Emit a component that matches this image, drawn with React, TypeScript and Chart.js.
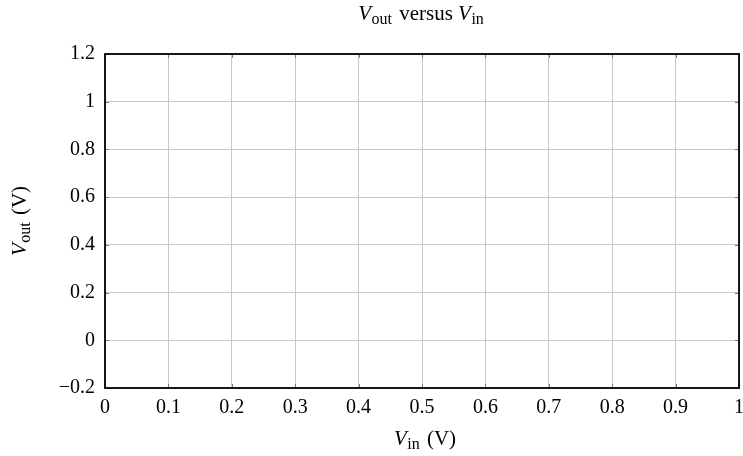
import React, { useEffect, useRef } from "react";
import { Chart, registerables } from "chart.js";

Chart.register(...registerables);

// Axis ranges and tick values
const xTicks = [0, 0.1, 0.2, 0.3, 0.4, 0.5, 0.6, 0.7, 0.8, 0.9, 1];
const yTicks = [-0.2, 0, 0.2, 0.4, 0.6, 0.8, 1, 1.2];
// Measured transfer curve (no samples recorded yet)
const vIn: number[] = [];
const vOut: number[] = [];

const FONT = "'Liberation Serif', 'Times New Roman', serif";
const FS = 20;
const TFS = 21;

type Part = { t: string; italic?: boolean; sub?: boolean };

function drawParts(ctx: CanvasRenderingContext2D, parts: Part[], x: number, y: number) {
  const fontOf = (p: Part) =>
    `${p.italic ? "italic " : ""}${p.sub ? Math.round(TFS * 0.75) : TFS}px ${FONT}`;
  const gap = (p: Part) => (p.sub ? 2 : p.italic ? 0.5 : 0);
  let total = 0;
  for (const p of parts) {
    ctx.font = fontOf(p);
    total += ctx.measureText(p.t).width + gap(p);
  }
  let cx = x - total / 2;
  ctx.textBaseline = "middle";
  ctx.textAlign = "left";
  for (const p of parts) {
    ctx.font = fontOf(p);
    ctx.fillText(p.t, cx, p.sub ? y + TFS * 0.27 : y);
    cx += ctx.measureText(p.t).width + gap(p);
  }
}

const frame = {
  id: "frame",
  afterDraw(chart: any) {
    const { ctx, chartArea } = chart;
    const { left, right, top, bottom } = chartArea;
    const xs = chart.scales.x;
    const ys = chart.scales.y;
    ctx.save();
    // inner tick marks on all four sides
    ctx.strokeStyle = "#7a7a7a";
    ctx.lineWidth = 1;
    const L = 4;
    ctx.beginPath();
    for (const v of xTicks) {
      const px = Math.round(xs.getPixelForValue(v)) + 0.5;
      ctx.moveTo(px, bottom);
      ctx.lineTo(px, bottom - L);
      ctx.moveTo(px, top);
      ctx.lineTo(px, top + L);
    }
    for (const v of yTicks) {
      const py = Math.round(ys.getPixelForValue(v)) + 0.5;
      ctx.moveTo(left, py);
      ctx.lineTo(left + L, py);
      ctx.moveTo(right, py);
      ctx.lineTo(right - L, py);
    }
    ctx.stroke();
    // frame
    ctx.strokeStyle = "#000";
    ctx.lineWidth = 1.8;
    ctx.strokeRect(left, top, right - left, bottom - top);

    // titles
    ctx.fillStyle = "#000";
    const cx = (left + right) / 2;
    drawParts(
      ctx,
      [
        { t: "V", italic: true },
        { t: "out", sub: true },
        { t: " versus " },
        { t: "V", italic: true },
        { t: "in", sub: true },
      ],
      cx,
      14
    );
    drawParts(
      ctx,
      [{ t: "V", italic: true }, { t: "in", sub: true }, { t: " (V)" }],
      cx + 3,
      439
    );
    ctx.translate(20, (top + bottom) / 2);
    ctx.rotate(-Math.PI / 2);
    drawParts(
      ctx,
      [{ t: "V", italic: true }, { t: "out", sub: true }, { t: " (V)" }],
      0,
      0
    );
    ctx.restore();
  },
};

export default function App() {
  const ref = useRef<HTMLCanvasElement>(null);
  useEffect(() => {
    if (!ref.current) return;
    const chart = new Chart(ref.current, {
      type: "scatter",
      data: {
        datasets: [
          {
            label: "Vout",
            data: vIn.map((x, i) => ({ x, y: vOut[i] })),
            borderColor: "#1f4e9c",
            showLine: true,
          },
        ],
      },
      options: {
        animation: false,
        responsive: false,
        layout: { padding: { top: 54, right: 4, bottom: 0, left: 0 } },
        plugins: { legend: { display: false }, tooltip: { enabled: false }, title: { display: false } },
        scales: {
          x: {
            type: "linear",
            min: 0,
            max: 1,
            afterBuildTicks: (s: any) => {
              s.ticks = xTicks.map((value) => ({ value }));
            },
            afterFit: (s: any) => {
              s.height = 68;
              s.paddingLeft = 0;
              s.paddingRight = 0;
            },
            grid: { color: "#c8c8c8", lineWidth: 1, drawTicks: false },
            border: { display: false },
            ticks: {
              padding: 8,
              color: "#000",
              maxRotation: 0,
              autoSkip: false,
              font: { family: FONT, size: FS },
              callback: (v: any) => String(Math.round(Number(v) * 10) / 10),
            },
          },
          y: {
            type: "linear",
            min: -0.2,
            max: 1.2,
            afterBuildTicks: (s: any) => {
              s.ticks = yTicks.map((value) => ({ value }));
            },
            afterFit: (s: any) => {
              s.width = 105;
              s.paddingTop = 0;
              s.paddingBottom = 0;
            },
            grid: { color: "#c8c8c8", lineWidth: 1, drawTicks: false },
            border: { display: false },
            ticks: {
              padding: 10,
              color: "#000",
              autoSkip: false,
              font: { family: FONT, size: FS },
              callback: (v: any) =>
                String(Math.round(Number(v) * 10) / 10).replace("-", "\u2212"),
            },
          },
        },
      },
      plugins: [frame],
    });
    return () => chart.destroy();
  }, []);
  return (
    <div style={{ position: "fixed", left: 0, top: 0, width: 743, height: 456, background: "#fff" }}>
      <canvas ref={ref} width={743} height={456} style={{ width: 743, height: 456 }} />
    </div>
  );
}
